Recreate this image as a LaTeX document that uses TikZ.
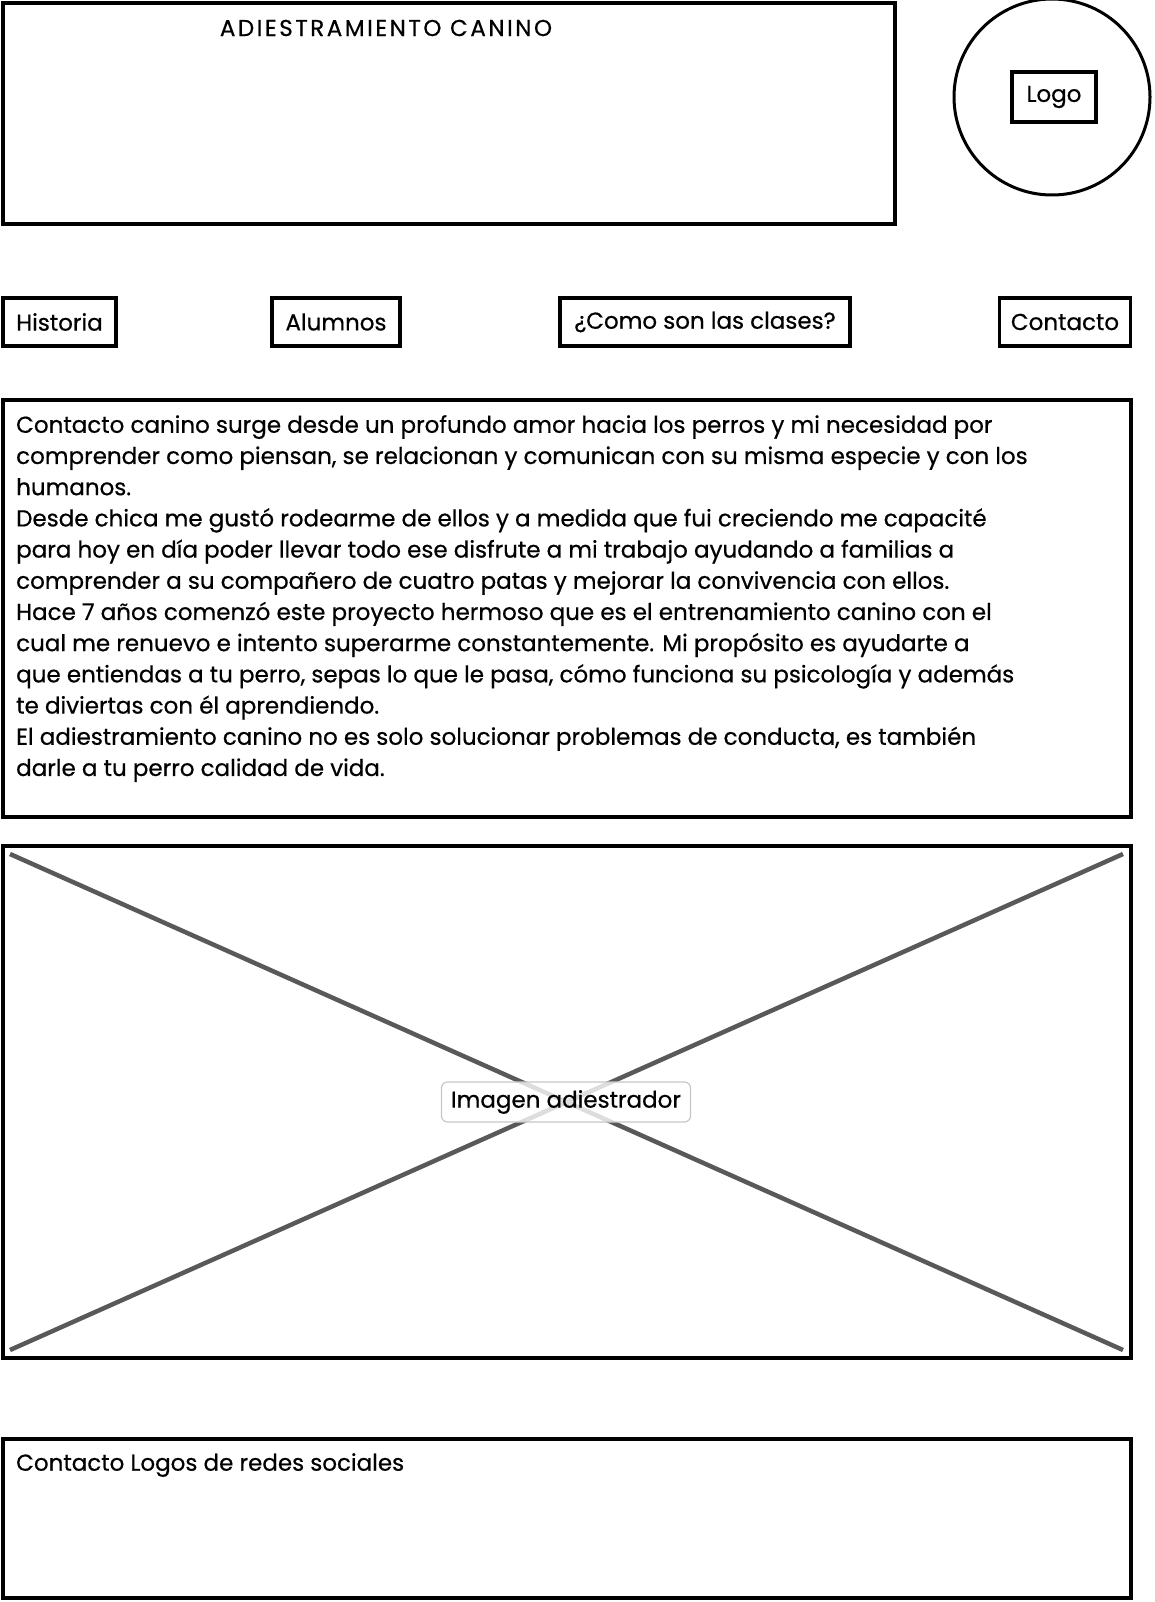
\documentclass[tikz,border=0pt]{standalone}
\usepackage{fontspec}
\setmainfont{Poppins}[FakeBold=0.6]
\newfontfamily\titlefont{Poppins}[FakeBold=0.6,LetterSpace=11]
\begin{document}
\begin{tikzpicture}[x=1pt,y=-1pt,
  frame/.style={draw=black, line width=3.5pt, inner sep=0pt, outer sep=0pt},
  txt/.style={font=\fontsize{23}{31.2}\selectfont, inner sep=0pt},
  cross/.style={draw=black!65, line width=4.5pt}]
\useasboundingbox (0,0) rectangle (1154,1602);
% header
\node[frame, minimum width=892pt, minimum height=221pt] (header) at (449,113.5) {};
\node[inner sep=0pt, font=\titlefont\fontsize{23}{28}\selectfont] (title) at (386,28) {ADIESTRAMIENTO CANINO};
% logo
\node[draw=black, circle, line width=3pt, minimum size=196pt] (logoc) at (1052,97) {};
\node[frame, txt, minimum width=84pt, minimum height=50pt] (logo) at (1054,97) {Logo};
% nav
\node[frame, txt, minimum width=113pt, minimum height=48pt] (hist) at (59.5,322) {Historia};
\node[frame, txt, minimum width=128pt, minimum height=48pt] (alum) at (336,322) {Alumnos};
\node[frame, txt, minimum width=290pt, minimum height=48pt] (clas) at (705,322) {¿Como son las clases?};
\node[frame, txt, minimum width=131pt, minimum height=48pt] (cont) at (1065,322) {Contacto};
% text box
\node[frame, minimum width=1128pt, minimum height=417pt] (textbox) at (567,608.5) {};
\node[txt, align=left, anchor=north west] (body) at (16,415) {Contacto canino surge desde un profundo amor hacia los perros y mi necesidad por\\
comprender como piensan, se relacionan y comunican con su misma especie y con los\\
humanos.\\
Desde chica me gustó rodearme de ellos y a medida que fui creciendo me capacité\\
para hoy en día poder llevar todo ese disfrute a mi trabajo ayudando a familias a\\
comprender a su compañero de cuatro patas y mejorar la convivencia con ellos.\\
Hace 7 años comenzó este proyecto hermoso que es el entrenamiento canino con el\\
cual me renuevo e intento superarme constantemente. Mi propósito es ayudarte a\\
que entiendas a tu perro, sepas lo que le pasa, cómo funciona su psicología y además\\
te diviertas con él aprendiendo.\\
El adiestramiento canino no es solo solucionar problemas de conducta, es también\\
darle a tu perro calidad de vida.};
% image
\node[frame, minimum width=1128pt, minimum height=512pt] (img) at (567,1102) {};
\coordinate (c1) at (10,854);
\coordinate (c2) at (1123,1350);
\coordinate (c3) at (10,1350);
\coordinate (c4) at (1123,854);
\draw[cross] (c1) -- (c2);
\draw[cross] (c3) -- (c4);
\node[txt, draw=black!22, line width=1.2pt, fill=white, fill opacity=0.8, text opacity=1, rounded corners=6pt, minimum width=249pt, minimum height=40pt] (imglabel) at (566,1102) {Imagen adiestrador};
% footer
\node[frame, minimum width=1128pt, minimum height=159pt] (footer) at (567,1518.5) {};
\node[txt, anchor=north west] (foottxt) at (16,1453) {Contacto Logos de redes sociales};
\end{tikzpicture}
\end{document}
